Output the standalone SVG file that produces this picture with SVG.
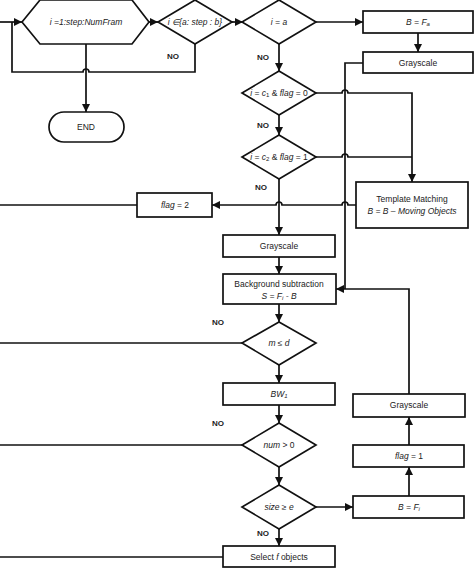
<svg xmlns="http://www.w3.org/2000/svg" width="474" height="571" viewBox="0 0 474 571">
<defs>
<marker id="ah" markerUnits="userSpaceOnUse" markerWidth="9" markerHeight="9" refX="8" refY="4" orient="auto">
<path d="M0,0 L8,4 L0,8 z" fill="#111"/>
</marker>
<style>
.s{fill:#fff;stroke:#111;stroke-width:1.7}
.c{fill:none;stroke:#111;stroke-width:1.7}
.a{marker-end:url(#ah)}
text{font-family:"Liberation Sans","Open Sans",sans-serif;font-size:8.5px;fill:#222;text-anchor:middle;dominant-baseline:central}
.i{font-style:italic}
.no{font-weight:bold;font-size:8px}
.sb{font-size:6px}
</style>
</defs>
<rect width="474" height="571" fill="#fff"/>
<g id="connectors">
<path class="c a" d="M0,22 H22"/>
<path class="c" d="M195,44 V72 H89 A3,3 0 0 0 83,72 H12 V22"/>
<path class="c a" d="M86,44 V112"/>
<path class="c a" d="M149,22 H158"/>
<path class="c a" d="M232,22 H243"/>
<path class="c a" d="M316,22 H363"/>
<path class="c a" d="M418,33 V52"/>
<path class="c a" d="M279,44 V71"/>
<path class="c a" d="M279,115 V135"/>
<path class="c a" d="M316,93 H342 A3,3 0 0 1 348,93 H412 V182"/>
<path class="c" d="M316,157 H342 A3,3 0 0 1 348,157 H412"/>
<path class="c a" d="M279,179 V235"/>
<path class="c a" d="M356,205 H348 A3,3 0 0 0 342,205 H282 A3,3 0 0 0 276,205 H212"/>
<path class="c" d="M137,205 H0"/>
<path class="c" d="M363,63 H345 V289"/>
<path class="c a" d="M409,394 V289 H336"/>
<path class="c a" d="M279,257 V274"/>
<path class="c a" d="M279,304 V322"/>
<path class="c" d="M243,343 H0"/>
<path class="c a" d="M279,365 V383"/>
<path class="c a" d="M279,405 V423"/>
<path class="c" d="M243,445 H0"/>
<path class="c a" d="M279,467 V485"/>
<path class="c a" d="M316,507 H353"/>
<path class="c a" d="M279,529 V546"/>
<path class="c" d="M0,557 H223"/>
<path class="c a" d="M409,496 V467"/>
<path class="c a" d="M409,445 V417"/>
</g>
<g id="loop">
<polygon class="s" points="22,22 40,0 132,0 149,22 132,44 40,44"/>
<text x="86" y="22" class="i">i =1:step:NumFram</text>
</g>
<g id="end">
<rect class="s" x="49" y="112" width="75" height="30" rx="15"/>
<text x="86" y="127">END</text>
</g>
<g id="d-range">
<polygon class="s" points="195,0 232,22 195,44 158,22"/>
<text x="195" y="22" class="i" font-size="7.2">i ∈{a: step : b}</text>
<text x="173" y="56" class="no">NO</text>
</g>
<g id="d-ia">
<polygon class="s" points="279,0 316,22 279,44 242,22"/>
<text x="279" y="22" class="i">i = a</text>
<text x="263" y="57" class="no">NO</text>
</g>
<g id="b-fa">
<rect class="s" x="363" y="11" width="110" height="22"/>
<text x="418" y="22"><tspan class="i">B = F</tspan><tspan class="sb i" dy="2">a</tspan></text>
</g>
<g id="gray1">
<rect class="s" x="363" y="52" width="110" height="21"/>
<text x="418" y="63">Grayscale</text>
</g>
<g id="d-c1">
<polygon class="s" points="279,71 316,93 279,115 242,93"/>
<text x="279" y="93" font-size="8"><tspan class="i">i</tspan> = <tspan class="i">c</tspan><tspan class="sb" dy="2">1</tspan><tspan dy="-2"> &amp; </tspan><tspan class="i">flag</tspan> = 0</text>
<text x="263" y="125" class="no">NO</text>
</g>
<g id="d-c2">
<polygon class="s" points="279,135 316,157 279,179 242,157"/>
<text x="279" y="157" font-size="8"><tspan class="i">i</tspan> = <tspan class="i">c</tspan><tspan class="sb" dy="2">2</tspan><tspan dy="-2"> &amp; </tspan><tspan class="i">flag</tspan> = 1</text>
<text x="261" y="187" class="no">NO</text>
</g>
<g id="template">
<rect class="s" x="356" y="182" width="112" height="46"/>
<text x="412" y="199" font-size="9">Template Matching</text>
<text x="412" y="211" class="i" font-size="9">B = B – Moving Objects</text>
</g>
<g id="flag2">
<rect class="s" x="137" y="193" width="75" height="24"/>
<text x="175" y="205"><tspan class="i">flag</tspan> = 2</text>
</g>
<g id="gray2">
<rect class="s" x="223" y="235" width="112" height="22"/>
<text x="279" y="246">Grayscale</text>
</g>
<g id="bgsub">
<rect class="s" x="223" y="274" width="113" height="30"/>
<text x="279" y="284">Background subtraction</text>
<text x="279" y="296" class="i">S = F<tspan class="sb" dy="2">i</tspan><tspan dy="-2"> - B</tspan></text>
</g>
<g id="d-md">
<polygon class="s" points="279,322 316,343 279,365 242,343"/>
<text x="279" y="343" class="i">m ≤ d</text>
<text x="218" y="322" class="no">NO</text>
</g>
<g id="bw1">
<rect class="s" x="223" y="383" width="112" height="22"/>
<text x="279" y="394" class="i">BW<tspan class="sb" dy="2">1</tspan></text>
</g>
<g id="d-num">
<polygon class="s" points="279,423 316,445 279,467 242,445"/>
<text x="279" y="445"><tspan class="i">num</tspan> &gt; 0</text>
<text x="218" y="423" class="no">NO</text>
</g>
<g id="d-size">
<polygon class="s" points="279,485 316,507 279,529 242,507"/>
<text x="279" y="507" class="i">size ≥ e</text>
<text x="263" y="533" class="no">NO</text>
</g>
<g id="select">
<rect class="s" x="223" y="546" width="112" height="21"/>
<text x="279" y="557">Select <tspan class="i">f</tspan> objects</text>
</g>
<g id="b-fi">
<rect class="s" x="353" y="496" width="111" height="22"/>
<text x="409" y="507"><tspan class="i">B = F</tspan><tspan class="sb i" dy="2">i</tspan></text>
</g>
<g id="flag1">
<rect class="s" x="353" y="445" width="111" height="22"/>
<text x="409" y="456"><tspan class="i">flag</tspan> = 1</text>
</g>
<g id="gray3">
<rect class="s" x="353" y="394" width="112" height="23"/>
<text x="409" y="405">Grayscale</text>
</g>
</svg>
